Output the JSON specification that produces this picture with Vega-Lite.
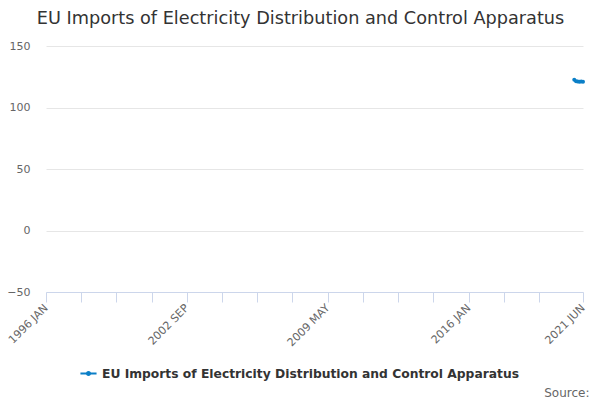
{
  "$schema": "https://vega.github.io/schema/vega-lite/v6.json",
  "autosize": "none",
  "width": 537,
  "height": 246,
  "padding": {"left": 46, "top": 46, "right": 17, "bottom": 108},
  "background": "white",
  "title": {
    "text": "EU Imports of Electricity Distribution and Control Apparatus",
    "fontSize": 17.7,
    "fontWeight": "normal",
    "color": "#333333",
    "font": "DejaVu Sans",
    "anchor": "middle",
    "dx": -14,
    "offset": 12
  },
  "config": {
    "font": "DejaVu Sans",
    "view": {"stroke": null},
    "axis": {"labelColor": "#666666", "labelFontSize": 11, "labelFont": "DejaVu Sans"}
  },
  "data": {
    "values": [
      {"month": "2021-01", "value": 122.5, "series": "EU Imports of Electricity Distribution and Control Apparatus"},
      {"month": "2021-02", "value": 121.3, "series": "EU Imports of Electricity Distribution and Control Apparatus"},
      {"month": "2021-03", "value": 121.2, "series": "EU Imports of Electricity Distribution and Control Apparatus"},
      {"month": "2021-04", "value": 121.0, "series": "EU Imports of Electricity Distribution and Control Apparatus"},
      {"month": "2021-05", "value": 121.2, "series": "EU Imports of Electricity Distribution and Control Apparatus"},
      {"month": "2021-06", "value": 121.0, "series": "EU Imports of Electricity Distribution and Control Apparatus"}
    ],
    "format": {"parse": {"month": "date:'%Y-%m'"}}
  },
  "mark": {"type": "line", "strokeWidth": 2, "point": {"size": 16, "filled": true}},
  "encoding": {
    "x": {
      "field": "month",
      "type": "temporal",
      "scale": {"domain": [{"year": 1996, "month": 1, "date": 1}, {"year": 2021, "month": 6, "date": 1}]},
      "axis": {
        "title": "Source:",
        "titleFont": "DejaVu Sans",
        "titleFontSize": 12,
        "titleFontWeight": "normal",
        "titleColor": "#666666",
        "titleAnchor": "end",
        "titleAlign": "right",
        "titleBaseline": "alphabetic",
        "titleX": 543,
        "titleY": 104,
        "values": [
          {"year": 1996, "month": 1, "date": 1},
          {"year": 1997, "month": 9, "date": 1},
          {"year": 1999, "month": 5, "date": 1},
          {"year": 2001, "month": 1, "date": 1},
          {"year": 2002, "month": 9, "date": 1},
          {"year": 2004, "month": 5, "date": 1},
          {"year": 2006, "month": 1, "date": 1},
          {"year": 2007, "month": 9, "date": 1},
          {"year": 2009, "month": 5, "date": 1},
          {"year": 2011, "month": 1, "date": 1},
          {"year": 2012, "month": 9, "date": 1},
          {"year": 2014, "month": 5, "date": 1},
          {"year": 2016, "month": 1, "date": 1},
          {"year": 2017, "month": 9, "date": 1},
          {"year": 2019, "month": 5, "date": 1},
          {"year": 2021, "month": 6, "date": 1}
        ],
        "labelExpr": "indexof(['1996 JAN','2002 SEP','2009 MAY','2016 JAN','2021 JUN'], upper(timeFormat(datum.value, '%Y %b'))) >= 0 ? upper(timeFormat(datum.value, '%Y %b')) : ''",
        "labelAngle": -45,
        "labelAlign": "right",
        "labelBaseline": "middle",
        "labelPadding": 4,
        "labelOverlap": false,
        "labelFlush": false,
        "grid": false,
        "domainColor": "#ccd6eb",
        "tickColor": "#ccd6eb",
        "tickSize": 10
      }
    },
    "y": {
      "field": "value",
      "type": "quantitative",
      "scale": {"domain": [-50, 150], "nice": false},
      "axis": {
        "title": null,
        "values": [-50, 0, 50, 100, 150],
        "domain": false,
        "ticks": false,
        "labelPadding": 16,
        "gridColor": "#e6e6e6"
      }
    },
    "color": {
      "field": "series",
      "type": "nominal",
      "scale": {"range": ["#0b7fc7"]},
      "legend": {
        "title": null,
        "orient": "none",
        "legendX": 33,
        "legendY": 318,
        "labelFontSize": 12.3,
        "labelFontWeight": "bold",
        "labelColor": "#333333",
        "labelFont": "DejaVu Sans",
        "labelLimit": 600,
        "symbolType": "M-1,0H1M0.2,0A0.2,0.2,0,1,1,-0.2,0A0.2,0.2,0,1,1,0.2,0",
        "symbolSize": 260,
        "symbolStrokeWidth": 2,
        "symbolFillColor": "#0b7fc7"
      }
    }
  }
}
